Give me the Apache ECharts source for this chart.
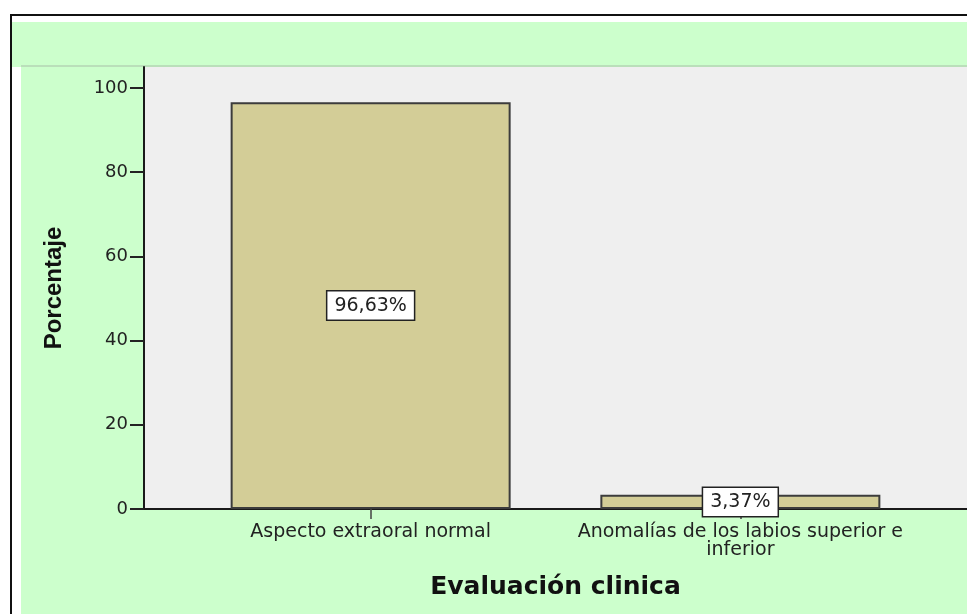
<!DOCTYPE html>
<html>
<head>
<meta charset="utf-8">
<style>
  html, body { margin: 0; padding: 0; background: #fff; }
  #chart { width: 967px; height: 614px; }
</style>
<script src="https://cdn.jsdelivr.net/npm/echarts@6/dist/echarts.min.js"></script>
</head>
<body>
<div id="chart"></div>
<script>
// datos
const categories = ['Aspecto extraoral normal', 'Anomalías de los labios superior e\ninferior']
const percents = [96.63, 3.37]
const yTicks = [0, 20, 40, 60, 80, 100]
const catPos = [0, 1]

const chart = echarts.init(document.getElementById('chart'))

// marco y fondos verdes (decoracion)
const frame = [
  { type: 'rect', z: -10, shape: { x: 12, y: 22, width: 960, height: 45 }, style: { fill: '#CCFFCC' } },
  { type: 'rect', z: -10, shape: { x: 21, y: 67, width: 950, height: 560 }, style: { fill: '#CCFFCC' } },
  { type: 'line', z: -9, shape: { x1: 21, y1: 66, x2: 967, y2: 66 }, style: { stroke: '#A8BFA8', lineWidth: 1 } },
  { type: 'rect', z: -8, shape: { x: 10, y: 14, width: 960, height: 2 }, style: { fill: '#111' } },
  { type: 'rect', z: -8, shape: { x: 10, y: 14, width: 2, height: 610 }, style: { fill: '#111' } }
]

chart.setOption({
  animation: false,
  backgroundColor: '#fff',
  graphic: frame,
  grid: {
    left: 144, right: -4, top: 67, bottom: 105,
    show: true, backgroundColor: '#EFEFEF', borderWidth: 0
  },
  xAxis: {
    type: 'value',
    min: -0.613,
    max: 1.613,
    splitLine: { show: false },
    axisLine: { show: true, onZero: false, lineStyle: { color: '#1a1a1a', width: 2 } },
    axisTick: { show: true, customValues: catPos, length: 10, lineStyle: { color: '#444', width: 1.5 } },
    axisLabel: {
      customValues: catPos,
      formatter: v => categories[Math.round(v)],
      fontFamily: 'DejaVu Sans', fontSize: 19, lineHeight: 18, color: '#222', margin: 14
    },
    name: 'Evaluación clinica',
    nameLocation: 'middle',
    nameGap: 66,
    nameTextStyle: { fontFamily: 'DejaVu Sans', fontWeight: 'bold', fontSize: 25, color: '#111' }
  },
  yAxis: {
    type: 'value',
    min: 0,
    max: 105,
    splitLine: { show: false },
    axisLine: { show: true, onZero: false, lineStyle: { color: '#1a1a1a', width: 2 } },
    axisTick: { show: true, customValues: yTicks, length: 14, lineStyle: { color: '#222', width: 2 } },
    axisLabel: {
      customValues: yTicks,
      fontFamily: 'DejaVu Sans', fontSize: 18, color: '#222', margin: 16
    },
    name: 'Porcentaje',
    nameLocation: 'middle',
    nameGap: 78,
    nameTextStyle: { fontFamily: 'Liberation Sans', fontWeight: 'bold', fontSize: 24, color: '#111' }
  },
  series: [{
    type: 'bar',
    data: percents.map((v, i) => [catPos[i], v]),
    barWidth: 280,
    itemStyle: { color: '#D3CD97', borderColor: '#3c3c3c', borderWidth: 2 },
    label: {
      show: true,
      position: 'inside',
      formatter: p => p.value[1].toFixed(2).replace('.', ',') + '%',
      fontFamily: 'DejaVu Sans', fontSize: 19, color: '#222',
      backgroundColor: '#fff', borderColor: '#222', borderWidth: 1.5,
      padding: [5, 7, 4, 7]
    }
  }]
})
</script>
</body>
</html>
